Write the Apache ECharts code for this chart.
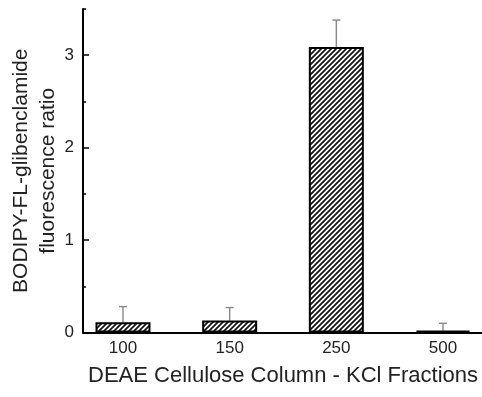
<!DOCTYPE html>
<html>
<head>
<meta charset="utf-8">
<script src="https://cdn.jsdelivr.net/npm/echarts@6/dist/echarts.min.js"></script>
<style>
    html, body { margin: 0; padding: 0; background: #fff; }
    #chart { width: 482px; height: 397px; }
</style>
</head>
<body>
<div id="chart"></div>
<script>
const categories = ["100", "150", "250", "500"];
const ratios = [0.11, 0.13, 3.09, 0.02];
const errors = [0.17, 0.14, 0.29, 0.08];
const majorTicks = [0, 1, 2, 3];
const minorTicks = [0.5, 1.5, 2.5, 3.5];

const hatch = () => {
    const c = document.createElement("canvas");
    c.width = 5;
    c.height = 5;
    const ctx = c.getContext("2d");
    ctx.fillStyle = "#fff";
    ctx.fillRect(0, 0, 5, 5);
    ctx.strokeStyle = "#111";
    ctx.lineWidth = 1.7;
    ctx.beginPath();
    ctx.moveTo(-1, 6); ctx.lineTo(6, -1);
    ctx.moveTo(-1, 1); ctx.lineTo(1, -1);
    ctx.moveTo(4, 6); ctx.lineTo(6, 4);
    ctx.stroke();
    return c;
};

const barData = ratios.map((v, i) => [i, v]);
const errData = ratios.map((v, i) => [i, v, v + errors[i]]);

const textColor = "#222";

const option = {
    animation: false,
    grid: { left: 83, top: 9, width: 400, height: 323.5, outerBoundsMode: "none", containLabel: false },
    xAxis: {
        type: "value",
        min: -0.375,
        max: 3.375,
        name: "DEAE Cellulose Column - KCl Fractions",
        nameLocation: "middle",
        nameGap: 32,
        nameMoveOverlap: false,
        nameTextStyle: { fontFamily: "Liberation Sans", fontSize: 22, color: textColor },
        axisLine: { show: true, onZero: false, lineStyle: { color: "#000", width: 2 } },
        axisTick: { show: false },
        splitLine: { show: false },
        axisLabel: {
            customValues: [0, 1, 2, 3],
            formatter: (v) => categories[Math.round(v)],
            fontFamily: "Liberation Sans",
            fontSize: 17,
            color: textColor,
            margin: 7
        }
    },
    yAxis: [
        {
            type: "value",
            min: 0,
            max: 3.5,
            name: "BODIPY-FL-glibenclamide\nfluorescence ratio",
            nameLocation: "middle",
            nameGap: 21,
            nameMoveOverlap: false,
            nameTextStyle: { fontFamily: "Liberation Sans", fontSize: 21, color: textColor, lineHeight: 27 },
            axisLine: { show: true, onZero: false, lineStyle: { color: "#000", width: 2 } },
            axisTick: { show: true, inside: true, length: 6, customValues: majorTicks, lineStyle: { color: "#000", width: 1.5 } },
            splitLine: { show: false },
            axisLabel: {
                customValues: majorTicks,
                fontFamily: "Liberation Sans",
                fontSize: 17,
                color: textColor,
                margin: 9
            }
        },
        {
            type: "value",
            min: 0,
            max: 3.5,
            position: "left",
            axisLine: { show: false, onZero: false },
            axisTick: { show: true, inside: true, length: 3, customValues: minorTicks, lineStyle: { color: "#000", width: 1.5 } },
            axisLabel: { show: false },
            splitLine: { show: false }
        }
    ],
    series: [
        {
            type: "custom",
            z: 1,
            data: errData,
            renderItem: (params, api) => {
                const base = api.coord([api.value(0), api.value(1)]);
                const top = api.coord([api.value(0), api.value(2)]);
                const style = { stroke: "#888", lineWidth: 1.4 };
                return {
                    type: "group",
                    children: [
                        { type: "line", shape: { x1: base[0], y1: base[1], x2: top[0], y2: top[1] }, style },
                        { type: "line", shape: { x1: top[0] - 4, y1: top[1], x2: top[0] + 4, y2: top[1] }, style }
                    ]
                };
            }
        },
        {
            type: "bar",
            z: 2,
            data: barData,
            barWidth: 55,
            itemStyle: {
                color: { image: hatch(), repeat: "repeat" },
                borderColor: "#000",
                borderWidth: 2
            }
        }
    ]
};

window.addEventListener("load", () => {
    const myChart = echarts.init(document.getElementById("chart"));
    myChart.setOption(option);
});
</script>
</body>
</html>
